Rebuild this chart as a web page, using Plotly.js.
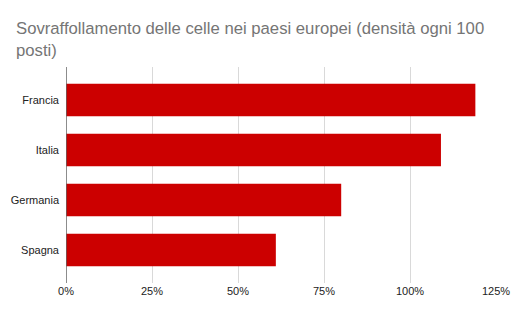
<!DOCTYPE html>
<html>
<head>
<meta charset="utf-8">
<script src="https://cdn.plot.ly/plotly-3.0.1.min.js"></script>
<style>html,body{margin:0;padding:0;background:#fff}#chart{width:512px;height:317px}</style>
</head>
<body>
<div id="chart"></div>
<script>
const categories = ["Francia", "Italia", "Germania", "Spagna"];
const values = [119, 109, 80, 61];
const tickValues = [0, 25, 50, 75, 100, 125];
const tickLabels = ["0%", "25%", "50%", "75%", "100%", "125%"];

const trace = {
  type: "bar",
  orientation: "h",
  y: categories,
  x: values,
  marker: {color: "#cc0000"},
  width: 0.65,
  hoverinfo: "none"
};

const layout = {
  width: 512,
  height: 317,
  margin: {l: 66, r: 16, t: 67, b: 34},
  paper_bgcolor: "#ffffff",
  plot_bgcolor: "#ffffff",
  font: {family: "Liberation Sans, Arial, sans-serif", color: "#222222", size: 11},
  title: {
    text: "Sovraffollamento delle celle nei paesi europei (densità ogni 100<br>posti)",
    font: {family: "Liberation Sans, Arial, sans-serif", size: 16.7, color: "#757575"},
    x: 16 / 512,
    xanchor: "left",
    xref: "container",
    y: 1 - 34 / 317,
    yanchor: "top",
    yref: "container"
  },
  xaxis: {
    range: [0, 125],
    tickvals: tickValues,
    ticktext: tickLabels,
    showgrid: true,
    gridcolor: "#d9d9d9",
    gridwidth: 1,
    zeroline: false,
    showline: false,
    ticks: "",
    tickfont: {size: 11, color: "#222222"},
    fixedrange: true
  },
  yaxis: {
    range: [3.66, -0.66],
    showgrid: false,
    zeroline: false,
    showline: false,
    ticks: "",
    ticklabelstandoff: 6,
    tickfont: {size: 11, color: "#222222"},
    fixedrange: true
  },
  shapes: [{
    type: "line", xref: "x", yref: "paper",
    x0: 0, x1: 0, y0: 0, y1: 1,
    line: {color: "#666666", width: 1.5}
  }],
  showlegend: false
};

Plotly.newPlot("chart", [trace], layout, {displayModeBar: false, staticPlot: true});
</script>
</body>
</html>
